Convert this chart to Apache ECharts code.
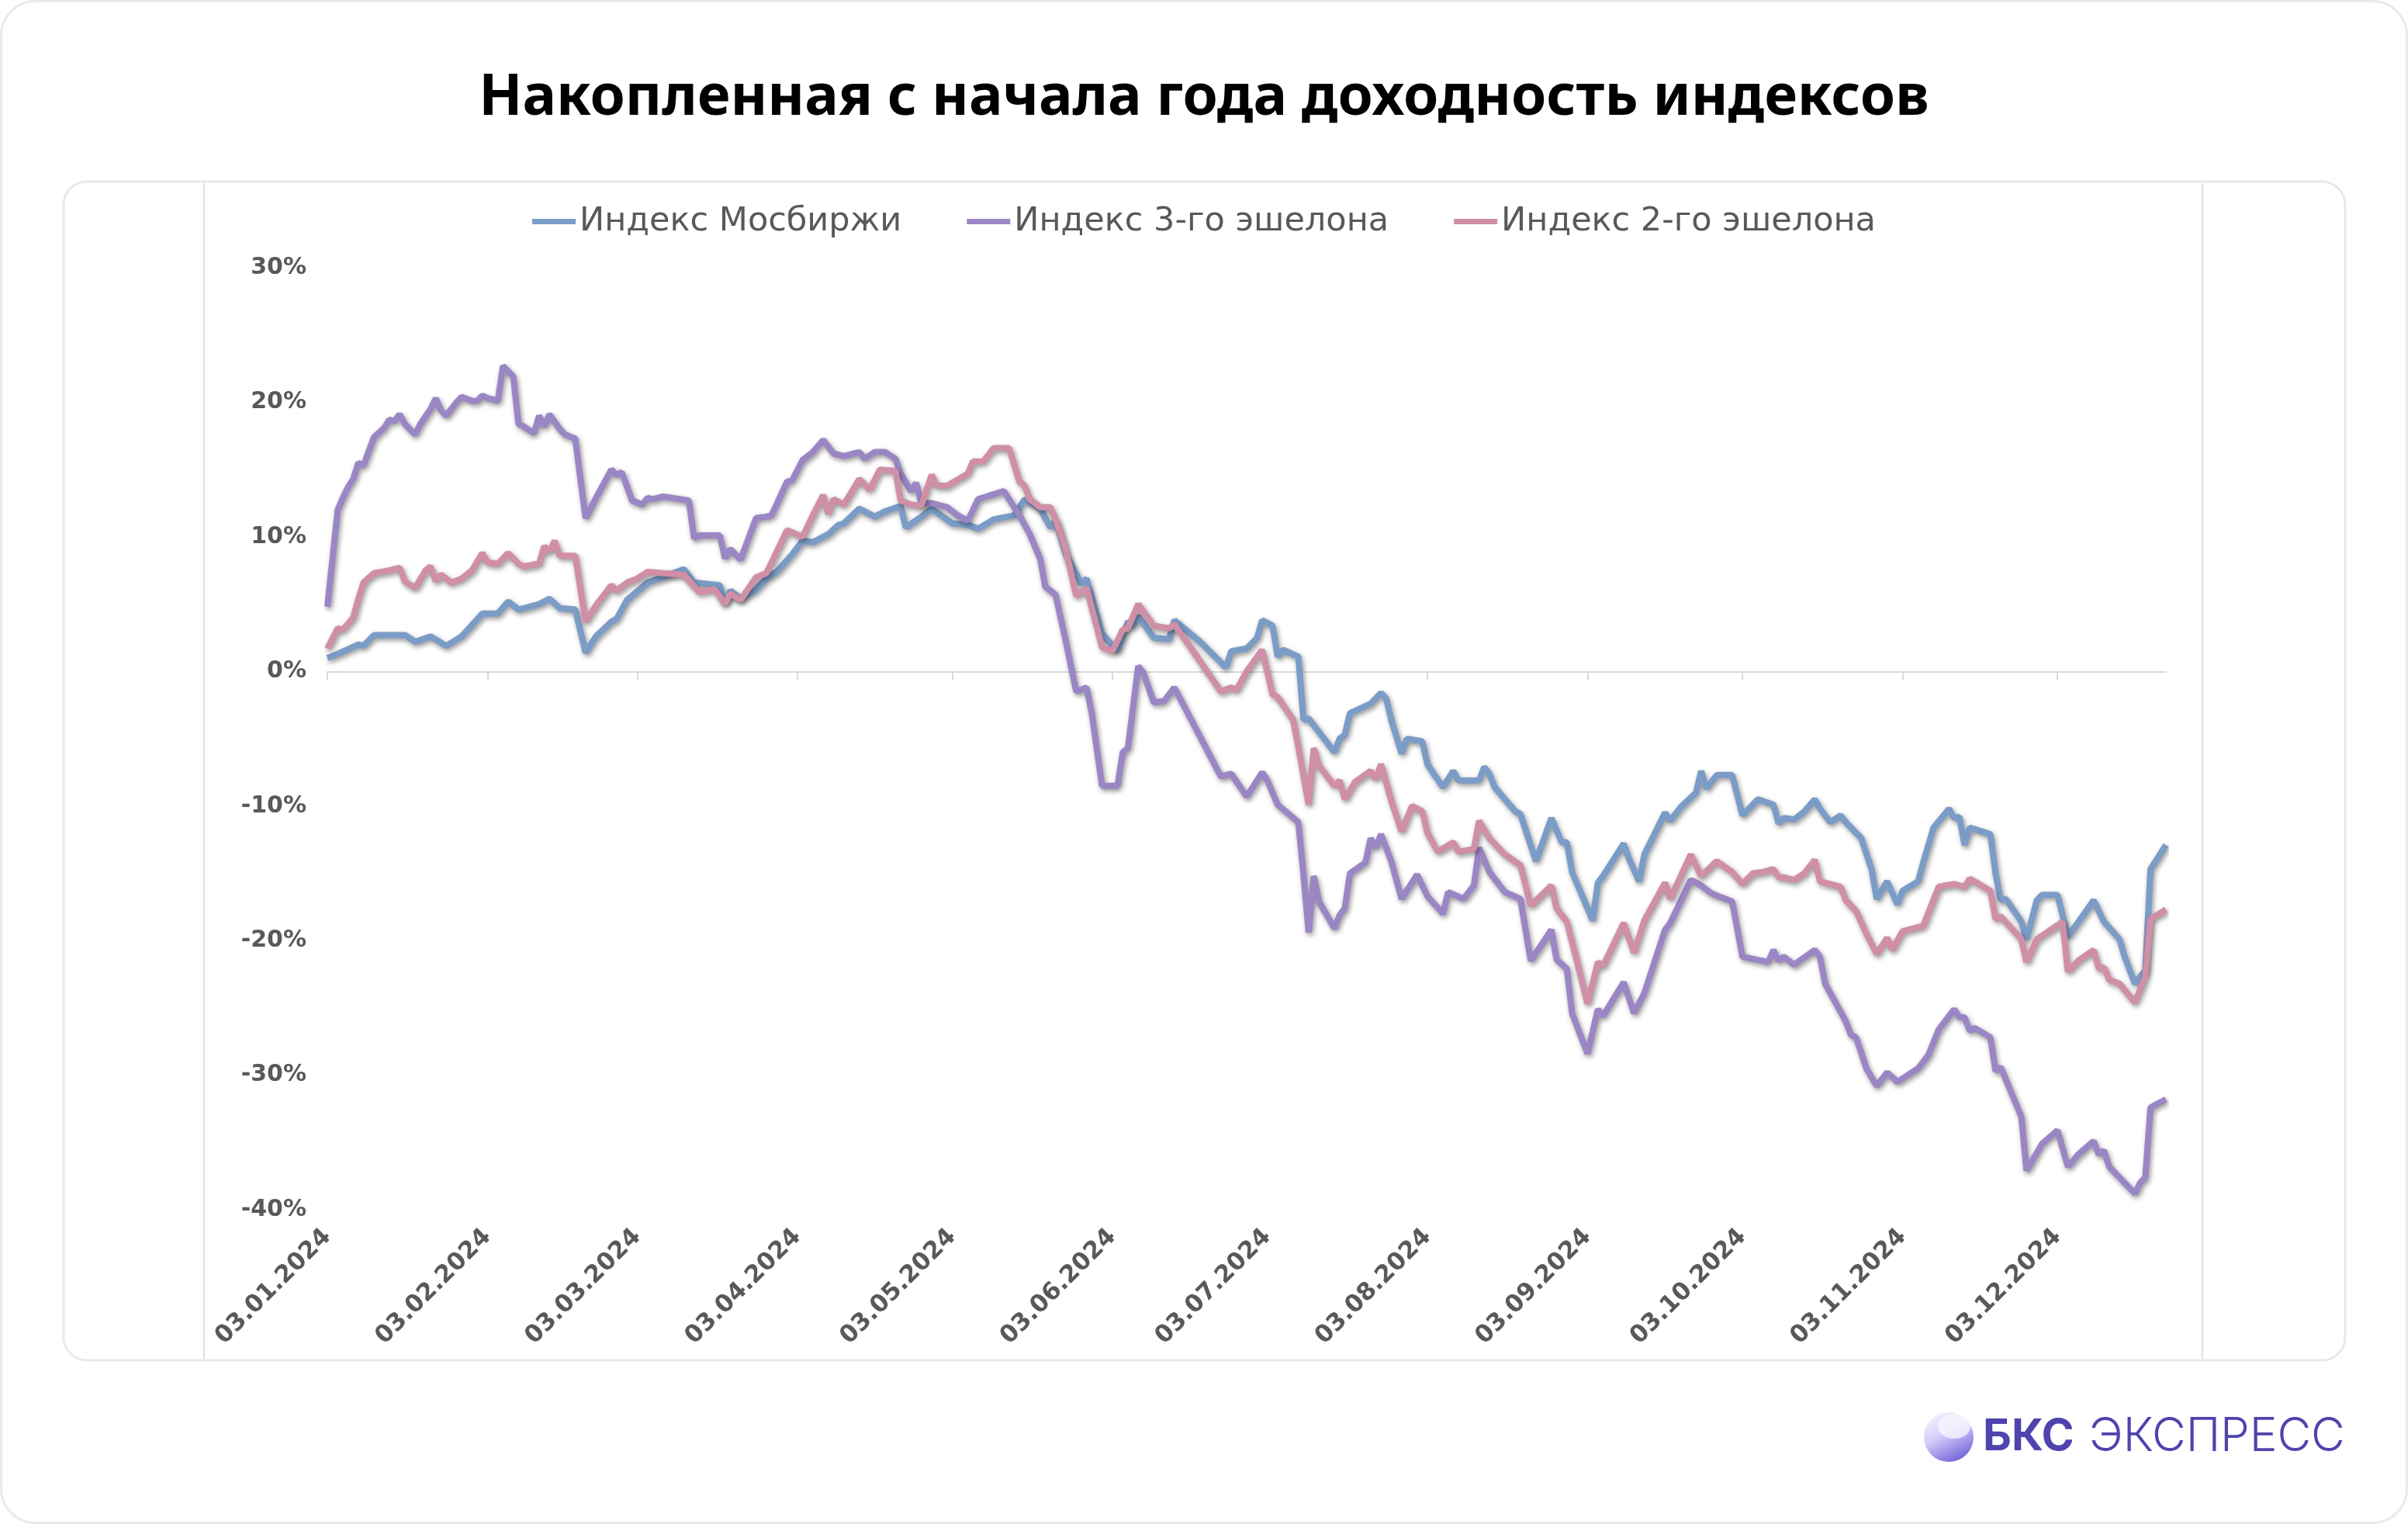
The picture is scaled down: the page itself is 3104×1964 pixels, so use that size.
<!DOCTYPE html>
<html>
<head>
<meta charset="utf-8">
<script src="https://cdn.jsdelivr.net/npm/echarts@6/dist/echarts.min.js"></script>
<style>
  html, body { margin: 0; padding: 0; background: #ffffff; }
  #chart { width: 3104px; height: 1964px; }
</style>
</head>
<body>
<div id="chart"></div>
<script>
// days since 03.01.2024, cumulative return in %
const moex = [
  [0, 1.0], [2, 1.3], [6, 2.0], [7, 1.9], [9, 2.7], [12, 2.7], [15, 2.7], [17, 2.2], [20, 2.6], [23, 1.9],
  [26, 2.6], [30, 4.3], [33, 4.3], [35, 5.2], [37, 4.6], [41, 5.0], [43, 5.4], [45, 4.7], [48, 4.6], [50, 1.4],
  [52, 2.6], [55, 3.7], [56, 3.9], [58, 5.3], [62, 6.6], [65, 7.0], [69, 7.6], [71, 6.6], [76, 6.4], [77, 5.1],
  [78, 6.0], [80, 5.4], [83, 6.1], [85, 6.9], [87, 7.4], [90, 8.7], [92, 9.7], [94, 9.6], [97, 10.2], [99, 10.9],
  [100, 11.0], [103, 12.1], [106, 11.5], [108, 11.9], [111, 12.3], [112, 10.7], [115, 11.5], [117, 12.1], [121, 11.0], [124, 10.9],
  [126, 10.6], [129, 11.3], [133, 11.6], [135, 12.8], [138, 12.1], [140, 10.7], [141, 11.2], [143, 8.7], [146, 6.5], [147, 6.9],
  [150, 2.8], [153, 1.5], [155, 3.7], [156, 3.4], [157, 4.1], [160, 2.5], [163, 2.4], [164, 3.8], [169, 2.2], [174, 0.3],
  [175, 1.5], [178, 1.7], [180, 2.5], [181, 3.8], [183, 3.4], [184, 1.1], [185, 1.6], [188, 1.1], [189, -3.6], [190, -3.5],
  [195, -6.0], [196, -5.0], [197, -4.7], [198, -3.1], [202, -2.4], [204, -1.6], [205, -2.0], [206, -3.6], [208, -6.1], [209, -5.0],
  [212, -5.2], [213, -6.9], [216, -8.6], [218, -7.4], [219, -8.1], [223, -8.1], [224, -7.1], [225, -7.6], [226, -8.6], [230, -10.4],
  [231, -10.6], [234, -14.1], [237, -10.9], [239, -12.7], [240, -12.7], [241, -14.9], [245, -18.5], [246, -15.7], [247, -15.2], [251, -12.8],
  [252, -13.9], [254, -15.6], [255, -13.6], [259, -10.5], [260, -11.1], [262, -10.1], [265, -9.0], [266, -7.4], [267, -8.7], [269, -7.7],
  [272, -7.7], [274, -10.7], [277, -9.5], [280, -9.9], [281, -11.3], [282, -10.9], [284, -11.0], [286, -10.4], [288, -9.5], [289, -10.2],
  [291, -11.2], [293, -10.7], [294, -11.2], [297, -12.4], [299, -14.7], [300, -16.9], [302, -15.6], [304, -17.3], [305, -16.3], [308, -15.6],
  [309, -14.2], [311, -11.6], [314, -10.2], [315, -10.9], [316, -10.8], [317, -12.9], [318, -11.6], [322, -12.1], [323, -15.0], [324, -17.0],
  [325, -16.9], [328, -18.6], [329, -19.9], [331, -17.0], [332, -16.6], [335, -16.6], [337, -19.7], [340, -18.1], [342, -17.0], [344, -18.6],
  [347, -19.9], [348, -21.2], [350, -23.2], [352, -22.2], [353, -14.7], [356, -12.9]
];

const echelon3 = [
  [0, 4.8], [2, 12.0], [3, 12.9], [4, 13.7], [5, 14.3], [6, 15.5], [7, 15.3], [9, 17.4], [11, 18.1], [12, 18.7],
  [13, 18.6], [14, 19.1], [15, 18.4], [17, 17.6], [18, 18.4], [20, 19.5], [21, 20.3], [22, 19.4], [23, 19.0], [25, 20.0],
  [26, 20.4], [28, 20.1], [29, 20.1], [30, 20.5], [31, 20.3], [33, 20.1], [34, 22.7], [36, 21.9], [37, 18.4], [38, 18.2],
  [40, 17.7], [41, 19.0], [42, 18.2], [43, 19.1], [45, 18.0], [46, 17.6], [48, 17.3], [49, 14.3], [50, 11.4], [52, 12.9],
  [55, 15.0], [56, 14.6], [57, 14.8], [59, 12.7], [61, 12.4], [62, 12.9], [63, 12.8], [65, 13.0], [70, 12.7], [71, 9.9],
  [72, 10.1], [76, 10.1], [77, 8.4], [78, 9.1], [80, 8.3], [83, 11.4], [85, 11.5], [86, 11.6], [89, 14.1], [90, 14.2],
  [92, 15.7], [94, 16.3], [96, 17.2], [98, 16.2], [100, 16.0], [103, 16.3], [104, 15.8], [106, 16.3], [108, 16.3], [110, 15.8],
  [111, 14.7], [113, 13.4], [114, 14.0], [115, 12.5], [117, 12.5], [120, 12.2], [122, 11.6], [124, 11.2], [126, 12.8], [131, 13.4],
  [134, 11.6], [136, 10.2], [138, 8.4], [139, 6.3], [141, 5.7], [143, 2.2], [145, -1.5], [147, -1.2], [148, -3.1], [150, -8.5],
  [153, -8.5], [154, -6.0], [155, -5.7], [157, 0.4], [158, -0.1], [160, -2.3], [162, -2.2], [164, -1.2], [167, -3.4], [170, -5.6],
  [173, -7.8], [175, -7.6], [178, -9.3], [181, -7.5], [182, -8.1], [184, -9.9], [188, -11.2], [189, -15.1], [190, -19.4], [191, -15.2],
  [192, -17.1], [195, -19.1], [196, -18.1], [197, -17.6], [198, -15.0], [201, -14.2], [202, -12.4], [203, -13.1], [204, -12.1], [206, -14.1],
  [208, -16.9], [211, -15.1], [213, -16.7], [216, -18.0], [217, -16.4], [220, -16.9], [222, -15.9], [223, -13.1], [225, -14.9], [228, -16.4],
  [231, -16.9], [233, -21.5], [237, -19.2], [238, -21.4], [240, -22.1], [241, -25.4], [244, -28.4], [246, -25.1], [247, -25.6], [251, -23.1],
  [253, -25.4], [255, -23.9], [259, -19.2], [260, -18.7], [264, -15.5], [266, -15.9], [268, -16.5], [272, -17.1], [274, -21.2], [279, -21.6],
  [280, -20.7], [281, -21.5], [282, -21.2], [284, -21.8], [288, -20.7], [289, -21.2], [290, -23.2], [294, -26.0], [295, -27.0], [296, -27.2],
  [298, -29.5], [300, -30.8], [302, -29.8], [304, -30.5], [308, -29.5], [310, -28.5], [312, -26.6], [315, -25.1], [316, -25.7], [317, -25.7],
  [318, -26.7], [319, -26.5], [322, -27.2], [323, -29.7], [324, -29.4], [328, -33.1], [329, -37.1], [332, -35.1], [335, -34.1], [337, -36.8],
  [339, -35.9], [342, -34.9], [343, -35.9], [344, -35.6], [345, -36.8], [350, -38.8], [351, -38.0], [352, -37.6], [353, -32.4], [356, -31.8]
];

const echelon2 = [
  [0, 1.7], [2, 3.2], [3, 3.1], [5, 4.0], [6, 5.4], [7, 6.6], [9, 7.3], [12, 7.5], [14, 7.7], [15, 6.7],
  [17, 6.2], [19, 7.5], [20, 7.8], [21, 6.7], [22, 7.2], [24, 6.6], [26, 6.9], [28, 7.5], [30, 8.8], [31, 8.1],
  [33, 8.0], [35, 8.8], [37, 8.0], [38, 7.8], [41, 8.0], [42, 9.3], [43, 8.9], [44, 9.7], [45, 8.6], [48, 8.6],
  [50, 3.7], [52, 4.9], [55, 6.4], [56, 6.0], [58, 6.6], [60, 6.9], [62, 7.4], [65, 7.3], [69, 7.2], [72, 5.9],
  [75, 6.1], [77, 5.0], [78, 5.8], [80, 5.3], [83, 7.0], [85, 7.3], [89, 10.5], [92, 10.0], [94, 11.6], [96, 13.1],
  [97, 11.7], [98, 12.8], [100, 12.4], [103, 14.3], [105, 13.5], [107, 15.0], [110, 14.9], [111, 12.7], [113, 12.4], [115, 12.3],
  [117, 14.6], [118, 13.8], [120, 13.8], [124, 14.7], [125, 15.6], [127, 15.6], [129, 16.6], [132, 16.6], [134, 14.1], [135, 13.8],
  [136, 12.8], [138, 12.2], [140, 12.2], [141, 11.3], [143, 9.0], [145, 5.6], [147, 6.2], [150, 1.8], [152, 1.5], [154, 3.1],
  [155, 3.2], [157, 5.0], [160, 3.4], [163, 3.2], [164, 3.5], [168, 1.3], [173, -1.5], [175, -1.2], [176, -1.4], [178, 0.0],
  [181, 1.6], [183, -1.7], [184, -1.9], [187, -3.6], [188, -5.6], [190, -9.9], [191, -5.7], [192, -7.0], [195, -8.5], [196, -8.1],
  [197, -9.5], [199, -8.2], [202, -7.4], [203, -8.0], [204, -6.9], [206, -9.6], [208, -11.9], [210, -10.0], [212, -10.4], [213, -12.0],
  [215, -13.4], [218, -12.7], [219, -13.4], [222, -13.2], [223, -11.1], [225, -12.4], [228, -13.6], [231, -14.4], [233, -17.4], [237, -15.9],
  [238, -17.6], [240, -18.6], [242, -21.6], [244, -24.7], [246, -21.6], [247, -21.9], [251, -18.7], [253, -20.9], [255, -18.5], [259, -15.7],
  [260, -16.9], [264, -13.6], [266, -15.2], [269, -14.1], [272, -14.9], [274, -15.8], [276, -15.0], [278, -14.9], [280, -14.7], [281, -15.3],
  [282, -15.3], [284, -15.5], [286, -15.0], [288, -14.0], [289, -15.6], [293, -16.0], [294, -17.0], [296, -17.8], [298, -19.5], [300, -21.0],
  [302, -19.8], [303, -20.7], [305, -19.3], [309, -18.9], [312, -16.0], [315, -15.8], [317, -16.0], [318, -15.4], [322, -16.3], [323, -18.4],
  [324, -18.2], [328, -19.9], [329, -21.6], [331, -19.9], [336, -18.6], [337, -22.3], [339, -21.5], [342, -20.7], [343, -22.1], [344, -22.0],
  [345, -22.9], [347, -23.2], [350, -24.6], [352, -22.7], [353, -18.4], [356, -17.7]
];

const seriesNames = ['Индекс Мосбиржи', 'Индекс 3-го эшелона', 'Индекс 2-го эшелона'];
const seriesColors = ['#7b9cc7', '#9b86c5', '#d08fa7'];
const tickLabels = ['03.01.2024', '03.02.2024', '03.03.2024', '03.04.2024', '03.05.2024', '03.06.2024',
  '03.07.2024', '03.08.2024', '03.09.2024', '03.10.2024', '03.11.2024', '03.12.2024'];
const lastDay = 356;

// x axis is "days since 03.01.2024"; month ticks are placed from the labels
const DAY = 864e5;
const START = Date.UTC(2024, 0, 3);
const labelToDay = (s) => {
  const [dd, mm, yy] = s.split('.').map(Number);
  return Math.round((Date.UTC(yy, mm - 1, dd) - START) / DAY);
};
const tickDays = tickLabels.map(labelToDay);

const labelColor = '#595959';
const axisGray = '#d9d9d9';

const chart = echarts.init(document.getElementById('chart'), null, { renderer: 'canvas' });

function lineSeries(name, data, color) {
  return {
    name,
    type: 'line',
    xAxisIndex: 0,
    data,
    showSymbol: false,
    symbol: 'none',
    color,
    itemStyle: { color },
    lineStyle: {
      width: 8,
      color,
      shadowColor: 'rgba(0, 0, 0, 0.42)',
      shadowBlur: 6,
      shadowOffsetX: 2,
      shadowOffsetY: 3,
    },
    emphasis: { disabled: true },
  };
}

const option = {
  animation: false,
  backgroundColor: '#ffffff',
  title: {
    text: 'Накопленная с начала года доходность индексов',
    left: 'center',
    top: 86,
    textStyle: {
      fontFamily: 'Noto Sans',
      fontWeight: 'bold',
      fontSize: 73,
      color: '#000000',
    },
  },
  legend: {
    top: 259,
    left: 'center',
    icon: 'rect',
    itemWidth: 56,
    itemHeight: 7,
    itemGap: 84,
    itemStyle: { shadowBlur: 0, shadowOffsetX: 0, shadowOffsetY: 0 },
    textStyle: {
      fontFamily: 'DejaVu Sans',
      fontSize: 43,
      color: labelColor,
    },
    data: seriesNames,
  },
  graphic: [
    {
      type: 'rect', z: -10, silent: true,
      shape: { x: 1.5, y: 1.5, width: 3101, height: 1961, r: 44 },
      style: { fill: '#ffffff', stroke: '#ebebeb', lineWidth: 3 },
    },
    {
      type: 'rect', z: -9, silent: true,
      shape: { x: 82, y: 234, width: 2941, height: 1519, r: 30 },
      style: { fill: '#ffffff', stroke: '#e9e9e9', lineWidth: 3 },
    },
    {
      type: 'line', z: -8, silent: true,
      shape: { x1: 263, y1: 236, x2: 263, y2: 1751 },
      style: { stroke: '#dedede', lineWidth: 2 },
    },
    {
      type: 'line', z: -8, silent: true,
      shape: { x1: 2839, y1: 236, x2: 2839, y2: 1751 },
      style: { stroke: '#dedede', lineWidth: 2 },
    },
    {
      type: 'circle', silent: true,
      shape: { cx: 2512, cy: 1852, r: 32 },
      style: {
        fill: new echarts.graphic.LinearGradient(0.2, 0, 0.7, 1, [
          { offset: 0, color: '#f7f4ff' },
          { offset: 0.45, color: '#d3cbfb' },
          { offset: 1, color: '#6f61d4' },
        ]),
      },
    },
    {
      type: 'ellipse', silent: true,
      shape: { cx: 2519, cy: 1838, rx: 21, ry: 16 },
      style: { fill: 'rgba(250, 248, 255, 0.75)' },
    },
    {
      type: 'text', silent: true,
      x: 2556, y: 1852,
      style: {
        text: 'БКС',
        fontFamily: 'Inter',
        fontWeight: 'bold',
        fontSize: 57,
        fill: '#4f43ad',
        verticalAlign: 'middle',
      },
    },
    {
      type: 'text', silent: true,
      x: 2693, y: 1852,
      style: {
        text: 'ЭКСПРЕСС',
        fontFamily: 'Inter',
        fontWeight: 300,
        fontSize: 60,
        fill: '#4f43ad',
        verticalAlign: 'middle',
      },
    },
  ],
  grid: {
    left: 422,
    right: 312,
    top: 345,
    bottom: 405,
    containLabel: false,
  },
  xAxis: [
    {
      type: 'value',
      min: 0,
      max: lastDay,
      axisLine: { show: true, onZero: true, lineStyle: { color: axisGray, width: 2 } },
      axisTick: {
        show: true,
        customValues: tickDays,
        length: 11,
        lineStyle: { color: axisGray, width: 2 },
      },
      axisLabel: { show: false },
      splitLine: { show: false },
    },
    {
      type: 'value',
      position: 'bottom',
      min: 0,
      max: lastDay,
      axisLine: { show: false, onZero: false },
      axisTick: { show: false },
      splitLine: { show: false },
      axisLabel: {
        show: true,
        customValues: tickDays,
        rotate: 45,
        margin: 30,
        fontFamily: 'DejaVu Sans',
        fontWeight: 'bold',
        fontSize: 31,
        color: labelColor,
        hideOverlap: false,
        formatter: (v) => tickLabels[tickDays.indexOf(v)] || '',
      },
    },
  ],
  yAxis: {
    type: 'value',
    min: -40,
    max: 30,
    interval: 10,
    axisLine: { show: false },
    axisTick: { show: false },
    splitLine: { show: false },
    axisLabel: {
      margin: 27,
      fontFamily: 'DejaVu Sans',
      fontWeight: 'bold',
      fontSize: 30,
      color: labelColor,
      formatter: '{value}%',
    },
  },
  series: [
    lineSeries(seriesNames[0], moex, seriesColors[0]),
    lineSeries(seriesNames[1], echelon3, seriesColors[1]),
    lineSeries(seriesNames[2], echelon2, seriesColors[2]),
  ],
};

chart.setOption(option);
</script>
</body>
</html>
